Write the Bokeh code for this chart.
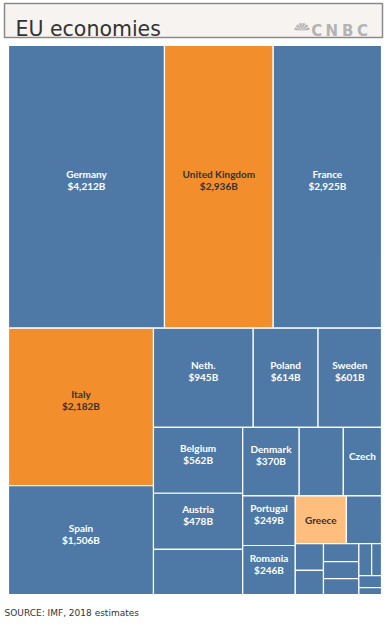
import numpy as np
from bokeh.plotting import figure
from bokeh.models import ColumnDataSource, Range1d
from bokeh.core.properties import value
from bokeh.embed import file_html
from bokeh.resources import INLINE

# ---------------- data ----------------
countries = ["Germany", "United Kingdom", "France", "Italy", "Spain", "Neth.",
             "Poland", "Sweden", "Belgium", "Austria", "Ireland", "Denmark",
             "Finland", "Czech", "Portugal", "Romania", "Greece", "Hungary",
             "Luxembourg", "Bulgaria", "Croatia", "Slovenia", "Lithuania",
             "Latvia", "Estonia", "Cyprus", "Malta"]
gdp_billions = [4212, 2936, 2925, 2182, 1506, 945, 614, 601, 562, 478, 385,
                370, 289, 250, 249, 246, 233, 160, 72, 65, 61, 57, 54, 39,
                30, 26, 15]
# what the chart prints inside each tile
show_name = ["Germany", "United Kingdom", "France", "Italy", "Spain", "Neth.",
             "Poland", "Sweden", "Belgium", "Austria", "Denmark", "Czech",
             "Portugal", "Romania", "Greece"]
show_value = ["Germany", "United Kingdom", "France", "Italy", "Spain", "Neth.",
              "Poland", "Sweden", "Belgium", "Austria", "Denmark",
              "Portugal", "Romania"]
highlight_strong = ["United Kingdom", "Italy"]
highlight_light = ["Greece"]
# number of tiles in each successive strip of the treemap
strip_sizes = [3, 2, 3, 3, 3, 2, 2, 2, 3, 2, 2]

TITLE = "EU economies"
SOURCE = "SOURCE: IMF, 2018 estimates"
LOGO = "CNBC"

# ---------------- style ----------------
BLUE = "#4E79A7"
ORANGE = "#F28E2B"
LIGHT_ORANGE = "#FFBE7D"
W, H = 384, 624
MAP_W, MAP_H = 373.0, 549.0      # layout space of the treemap
LEFT_PAD, TOP_PAD = 8, 45         # pixels left of / above the treemap


def strip_treemap(values, sizes, x0, y0, x1, y1):
    rects = []
    remaining = float(sum(values))
    i = 0
    for n in sizes:
        group = values[i:i + n]
        s = float(sum(group))
        w, h = x1 - x0, y1 - y0
        frac = s / remaining
        if w <= h:                       # strip along the top
            t = h * frac
            cx = x0
            for v in group:
                lw = w * v / s
                rects.append((cx, y0, cx + lw, y0 + t))
                cx += lw
            y0 += t
        else:                            # strip along the left
            t = w * frac
            cy = y0
            for v in group:
                lh = h * v / s
                rects.append((x0, cy, x0 + t, cy + lh))
                cy += lh
            x0 += t
        remaining -= s
        i += n
    return rects


rects = strip_treemap(gdp_billions, strip_sizes, 0.0, 0.0, MAP_W, MAP_H)

fills = []
for c in countries:
    if c in highlight_strong:
        fills.append(ORANGE)
    elif c in highlight_light:
        fills.append(LIGHT_ORANGE)
    else:
        fills.append(BLUE)

tiles = ColumnDataSource(dict(
    left=[r[0] for r in rects], right=[r[2] for r in rects],
    top=[r[1] for r in rects], bottom=[r[3] for r in rects],
    fill=fills, name=countries, gdp=gdp_billions))

single_line_nudge = {"Czech": -6.0, "Greece": 0.5}
lx, ly, lt, lc = [], [], [], []
for c, v, r, f in zip(countries, gdp_billions, rects, fills):
    cx = (r[0] + r[2]) / 2
    cy = (r[1] + r[3]) / 2
    col = "#333333" if f != BLUE else "white"
    if c in show_name and c in show_value:
        lx += [cx, cx]
        ly += [cy - 12.5, cy - 0.5]
        lt += [c, "${:,}B".format(v)]
        lc += [col, col]
    elif c in show_name:
        lx.append(cx)
        ly.append(cy + single_line_nudge.get(c, 0.0))
        lt.append(c)
        lc.append(col)
labels = ColumnDataSource(dict(x=lx, y=ly, text=lt, color=lc))

p = figure(width=W, height=H, output_backend="svg", toolbar_location=None,
           x_range=Range1d(-LEFT_PAD, W - LEFT_PAD),
           y_range=Range1d(H - TOP_PAD, -TOP_PAD),
           x_axis_type=None, y_axis_type=None, min_border=0)
p.grid.visible = False
p.outline_line_color = None
p.background_fill_color = "white"
p.border_fill_color = "white"

# title box
p.quad(left=[-4.0], right=[MAP_W + 1.0], top=[-42.0], bottom=[-8.0],
       fill_color="#F7F3F0", line_color="#8A8A8A", line_width=1.5)
p.text(x=[7.0], y=[-16.5], text=[TITLE], text_font=value("DejaVu Sans"),
       text_font_size="20.5px", text_color="#333333", text_align="left",
       text_baseline="alphabetic")

# CNBC mark
angles = np.linspace(0, np.pi, 7)
p.wedge(x=[293.5] * 6, y=[-15.0] * 6, radius=7.5, radius_units="screen",
        start_angle=angles[:-1] + 0.07, end_angle=angles[1:] - 0.07,
        fill_color="#B3B3B3", line_color=None)
p.text(x=[302.7, 317.0, 333.5, 348.5], y=[-15.0] * 4, text=list(LOGO),
       text_font=value("DejaVu Sans"), text_font_style="bold",
       text_font_size="15px", text_color="#B3B3B3", text_align="left",
       text_baseline="alphabetic")

# treemap
p.quad(left="left", right="right", top="top", bottom="bottom", source=tiles,
       fill_color="fill", line_color="white", line_width=1.2)
p.text(x="x", y="y", text="text", source=labels, text_color="color",
       text_font=value("Lato"), text_font_style="bold", text_font_size="10px",
       text_align="center", text_baseline="middle")

# source
p.text(x=[-4.0], y=[MAP_H + 18.0], text=[SOURCE], text_font=value("DejaVu Sans"),
       text_font_size="9px", text_color="#333333", text_align="left",
       text_baseline="middle")

open("out.html", "w").write(file_html(p, INLINE))
